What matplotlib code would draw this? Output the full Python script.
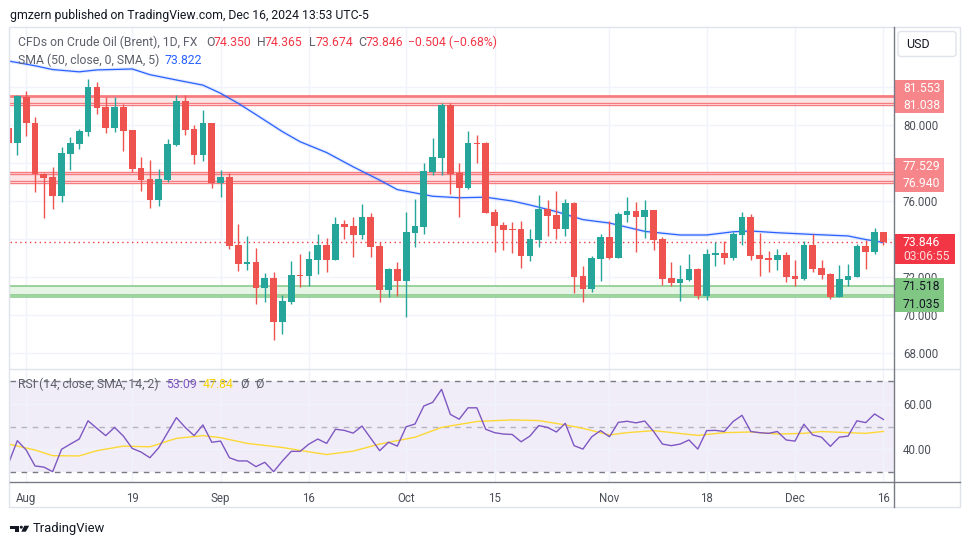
import numpy as np
import matplotlib
matplotlib.use("Agg")
import matplotlib.pyplot as plt
from matplotlib.patches import Rectangle, FancyBboxPatch, Polygon, Circle
from matplotlib.ticker import FormatStrFormatter

# ---- daily candles, Jul 30 .. Dec 16 2024 (Brent CFD) ----
opens = [79.83, 79.07, 81.50, 80.10, 77.40, 77.26, 76.28, 78.50, 79.02, 79.65,
         82.00, 80.95, 79.86, 80.95, 79.74, 77.74, 77.16, 76.07, 77.12, 78.95,
         81.26, 79.79, 78.42, 80.10, 76.95, 77.26, 73.68, 72.70, 72.79, 71.44,
         71.93, 69.65, 70.70, 72.12, 72.07, 72.91, 73.68, 72.91, 74.79, 74.68,
         74.21, 75.16, 73.63, 71.32, 72.42, 71.79, 74.32, 74.65, 77.53, 78.26,
         81.05, 77.47, 76.68, 79.05, 79.05, 75.42, 74.74, 74.52, 74.50, 73.12,
         73.96, 75.58, 75.26, 74.54, 75.90, 72.05, 71.39, 72.96, 74.10, 73.00,
         75.28, 75.47, 75.18, 75.53, 74.00, 71.95, 71.70, 71.86, 72.42, 71.02,
         73.16, 73.26, 73.00, 74.21, 75.16, 73.16, 73.00, 72.90, 73.16, 72.05,
         71.89, 73.68, 72.47, 72.16, 70.96, 71.86, 72.02, 73.63, 73.32, 74.350]
highs = [80.00, 81.60, 81.80, 80.40, 77.45, 77.80, 78.84, 79.37, 79.79, 82.42,
         82.25, 81.45, 81.45, 81.12, 79.76, 78.32, 78.16, 77.68, 79.26, 81.58,
         81.58, 80.00, 80.79, 80.12, 77.63, 77.47, 74.79, 74.17, 73.53, 72.21,
         72.26, 71.05, 72.84, 73.21, 73.37, 74.28, 74.05, 75.18, 75.00, 75.18,
         75.84, 75.37, 73.82, 72.45, 72.79, 75.42, 76.10, 78.00, 79.32, 81.16,
         81.16, 78.00, 79.68, 79.47, 79.10, 75.58, 74.90, 74.90, 74.95, 74.50,
         76.32, 76.05, 76.53, 76.10, 75.95, 72.58, 73.10, 74.26, 74.95, 75.40,
         76.21, 75.95, 76.05, 75.55, 74.10, 72.79, 72.63, 73.21, 72.47, 73.47,
         73.84, 73.90, 74.37, 75.42, 75.32, 74.32, 73.37, 73.47, 73.32, 72.90,
         73.90, 74.26, 72.90, 72.20, 72.63, 72.68, 73.74, 73.95, 74.58, 74.365]
lows = [78.90, 78.40, 79.40, 76.45, 75.10, 75.60, 75.96, 77.65, 78.74, 79.44,
        80.56, 79.58, 79.65, 78.63, 77.54, 76.54, 75.65, 75.75, 77.00, 78.90,
        79.47, 77.93, 78.10, 76.70, 76.23, 73.47, 72.32, 72.39, 70.60, 70.67,
        68.67, 69.02, 70.60, 71.49, 71.53, 72.17, 72.28, 72.90, 74.02, 73.07,
        74.00, 73.07, 70.68, 70.93, 71.02, 69.91, 73.60, 74.28, 77.37, 77.37,
        76.37, 75.16, 76.65, 78.00, 75.35, 73.32, 73.42, 73.26, 72.49, 72.84,
        73.60, 74.16, 74.00, 74.16, 71.18, 70.70, 71.20, 71.81, 72.96, 72.98,
        74.90, 73.33, 74.07, 73.44, 71.60, 71.54, 70.75, 71.80, 70.86, 70.80,
        72.58, 72.68, 72.90, 73.68, 72.90, 72.05, 72.26, 72.37, 71.75, 71.54,
        71.85, 72.26, 71.91, 70.86, 70.95, 71.54, 72.00, 72.42, 73.21, 73.674]
closes = [79.07, 81.53, 80.10, 77.40, 77.23, 76.28, 78.53, 79.05, 79.68, 82.00,
          80.91, 79.86, 80.95, 79.68, 77.68, 77.12, 76.07, 77.16, 79.00, 81.26,
          79.74, 78.42, 80.10, 76.95, 77.26, 73.65, 72.70, 72.79, 71.44, 71.93,
          69.65, 70.74, 72.09, 72.06, 72.95, 73.68, 72.91, 74.79, 74.63, 74.21,
          75.16, 73.60, 71.32, 72.42, 71.79, 74.37, 74.68, 77.58, 78.32, 81.05,
          77.42, 76.68, 79.05, 79.00, 75.37, 74.68, 74.47, 74.47, 73.12, 74.00,
          75.58, 75.23, 74.54, 75.90, 72.02, 71.39, 73.00, 74.10, 73.00, 75.32,
          75.47, 75.18, 75.53, 73.96, 71.91, 71.70, 71.89, 72.42, 71.02, 73.21,
          73.26, 73.00, 74.26, 75.16, 73.10, 72.95, 72.90, 73.16, 72.00, 71.89,
          73.68, 72.44, 72.12, 70.96, 71.89, 72.05, 73.63, 73.32, 74.37, 73.846]

# SMA(50) read at a handful of candles (candle index, value)
sma_idx = [0, 3, 5, 8, 10, 14, 16, 19, 22, 24, 26, 28, 31, 33, 36, 39, 42, 44,
           48, 51, 54, 57, 59, 62, 65, 68, 72, 76, 79, 82, 84, 87, 91, 95, 97, 99]
sma_val = [83.37, 83.12, 82.92, 82.80, 82.90, 82.95, 82.65, 82.37, 82.10, 81.67,
           81.14, 80.55, 79.65, 79.12, 78.55, 77.80, 77.10, 76.60, 76.25, 76.17,
           76.20, 76.00, 75.79, 75.44, 75.02, 74.84, 74.40, 74.21, 74.21, 74.38,
           74.42, 74.33, 74.24, 74.16, 73.97, 73.822]

# RSI(14) per candle
rsi = [33.8, 43.8, 39.7, 32.7, 32.2, 30.2, 40.0, 42.3, 44.5, 52.5,
       49.2, 46.0, 49.6, 45.8, 40.4, 38.8, 36.3, 40.7, 47.3, 53.9,
       49.6, 46.0, 50.7, 43.1, 43.6, 36.3, 34.9, 34.9, 32.4, 34.3,
       30.2, 34.9, 39.1, 39.1, 42.3, 44.5, 42.6, 48.8, 48.3, 47.1,
       50.2, 44.8, 39.4, 43.1, 41.4, 49.9, 51.1, 59.0, 60.6, 66.3,
       55.3, 53.2, 58.2, 58.2, 48.8, 47.3, 46.7, 46.5, 43.3, 45.8,
       50.4, 49.6, 47.6, 51.4, 41.6, 40.1, 45.5, 48.2, 45.5, 51.8,
       52.3, 51.6, 52.4, 47.8, 42.3, 41.6, 42.3, 44.1, 40.1, 48.2,
       48.3, 47.8, 52.2, 54.9, 47.8, 47.3, 47.0, 47.8, 44.1, 43.6,
       51.0, 46.3, 45.3, 41.3, 45.3, 45.8, 52.5, 51.7, 55.5, 53.09]

# RSI-based SMA(14) read at some candles
rsi_ma_idx = [0, 3, 5, 8, 10, 13, 16, 19, 22, 24, 27, 31, 34, 36, 39, 42, 46, 49,
              53, 57, 60, 63, 65, 68, 70, 73, 78, 81, 84, 87, 90, 92, 95, 97, 99]
rsi_ma_val = [42.3, 39.7, 37.2, 37.1, 39.4, 41.4, 41.1, 44.8, 46.0, 45.1,
              42.6, 40.8, 38.9, 37.7, 39.2, 42.3, 45.3, 49.6, 52.2, 52.9,
              52.6, 50.7, 49.2, 46.3, 47.3, 48.2, 46.1, 47.3, 47.6, 46.7,
              47.0, 47.8, 47.3, 47.0, 47.84]

tick_idx = [2, 14, 24, 34, 45, 55, 68, 79, 89, 99]
tick_lbl = ["Aug", "19", "Sep", "16", "Oct", "15", "Nov", "18", "Dec", "16"]

price_ticks = [68, 70, 72, 76, 80]      # labelled on the price scale
price_grid_only = [74, 78, 82]          # grid lines whose labels are hidden by tags
rsi_ticks = [40, 60]

# drawn zones (price levels of the lines and fills)
red_zone1_lines = [81.553, 81.14, 81.038]
red_zone1_fill = (81.14, 81.553)
red_zone2_lines = [77.529, 77.41, 77.04, 76.940]
red_zone2_fill = (77.04, 77.529)
green_zone_lines = [71.518, 71.035, 70.93]
green_zone_fill = (71.035, 71.518)
last_price = 73.846
countdown = "03:06:55"

UP = "#26a69a"
DOWN = "#ef5350"
GRID = "#f0f3fa"
TXT = "#4b4f59"
HDR = "#5d606b"

plt.rcParams['font.family'] = ['Roboto', 'DejaVu Sans']
FS = 8.3
FS_HDR = 8.8

W, H = 970, 545
fig = plt.figure(figsize=(W / 100, H / 100), dpi=100)
fig.patch.set_facecolor("white")


def px_rect(x0, y0, x1, y1):
    return [x0 / W, 1 - y1 / H, (x1 - x0) / W, (y1 - y0) / H]


ax = fig.add_axes(px_rect(10, 27, 894, 369.3))
ax_rsi = fig.add_axes(px_rect(10, 369.3, 894, 482.3), sharex=ax)

o = np.array(opens); h = np.array(highs); l = np.array(lows); c = np.array(closes)
x = np.arange(len(o))
cols = np.where(c >= o, UP, DOWN)

# ---- main pane ----
ax.set_xlim(0.17, 100.2)
ax.set_ylim(67.14, 85.16)
for s in ax.spines.values():
    s.set_visible(False)
ax.set_xticks(tick_idx)
ax.set_yticks(price_ticks)
ax.set_yticks(price_grid_only, minor=True)
ax.yaxis.tick_right()
ax.yaxis.set_major_formatter(FormatStrFormatter("%.3f"))
ax.tick_params(axis="y", which="both", length=0, pad=6.5, labelsize=FS, labelcolor=TXT)
ax.tick_params(axis="x", length=0, labelbottom=False)
ax.grid(True, which="both", color=GRID, lw=1, zorder=0)
ax.set_axisbelow(True)

ax.axhspan(*red_zone1_fill, color="#fde4e5", lw=0, zorder=1)
ax.axhspan(*red_zone2_fill, color="#fde4e5", lw=0, zorder=1)
ax.axhspan(*green_zone_fill, color="#e6f4e6", lw=0, zorder=1)
for i, v in enumerate(red_zone1_lines):
    ax.axhline(v, color="#f77c80", lw=2.0 if i == 0 else 1.0, zorder=1.5)
for v in red_zone2_lines:
    ax.axhline(v, color="#f77c80", lw=1.0, zorder=1.5)
for v in green_zone_lines:
    ax.axhline(v, color="#81c784", lw=1.1, zorder=1.5)

ax.axhline(last_price, color="#f23645", lw=1, ls=(0, (1, 2.5)), zorder=2)

ax.plot(sma_idx, sma_val, color="#2962ff", lw=2.6, alpha=0.12, zorder=2.2,
        solid_capstyle="round")
ax.plot(sma_idx, sma_val, color="#2962ff", lw=0.9, zorder=2.3)

ax.vlines(x, l, h, colors=cols, lw=1, zorder=3)
ax.bar(x, np.maximum(np.abs(c - o), 0.04), bottom=np.minimum(o, c), width=0.76,
       color=cols, lw=0, zorder=4)

# ---- RSI pane ----
ax_rsi.set_ylim(25.53, 75.09)
for s in ax_rsi.spines.values():
    s.set_visible(False)
ax_rsi.set_yticks(rsi_ticks)
ax_rsi.yaxis.tick_right()
ax_rsi.yaxis.set_major_formatter(FormatStrFormatter("%.2f"))
ax_rsi.tick_params(axis="y", length=0, pad=6.5, labelsize=FS, labelcolor=TXT)
ax_rsi.set_xticks(tick_idx)
ax_rsi.set_xticklabels(tick_lbl)
ax_rsi.tick_params(axis="x", length=0, pad=7, labelsize=FS, labelcolor=TXT)
ax_rsi.grid(True, color=GRID, lw=1, zorder=0)
ax_rsi.set_axisbelow(True)
ax_rsi.axhspan(30, 70, color="#7e57c2", alpha=0.1, lw=0, zorder=0.5)
ax_rsi.axhline(70, color="#787b86", lw=1, ls=(0, (4, 4)), zorder=1)
ax_rsi.axhline(30, color="#787b86", lw=1, ls=(0, (4, 4)), zorder=1)
ax_rsi.axhline(50, color="#787b86", lw=1, ls=(0, (4, 4)), alpha=0.5, zorder=1)
ax_rsi.plot(rsi_ma_idx, rsi_ma_val, color="#fdd835", lw=1, zorder=2)
ax_rsi.plot(x, rsi, color="#7e57c2", lw=1, zorder=3)

# ---- overlay in pixel units: frame, price labels, header texts ----
ov = fig.add_axes([0, 0, 1, 1])
ov.set_xlim(0, W)
ov.set_ylim(H, 0)
ov.axis("off")
ov.set_zorder(10)

ov.add_patch(Rectangle((9.5, 27), 950.5, 480, fill=False, ec="#e0e3eb", lw=1))
ov.plot([10, 960], [369.3, 369.3], color="#e0e3eb", lw=1)
ov.plot([10, 960], [482.3, 482.3], color="#787b86", lw=1)
ov.plot([894.3, 894.3], [27, 507], color="#787b86", lw=1)

# USD box
ov.add_patch(FancyBboxPatch((898, 31.5), 58, 25, boxstyle="round,pad=0,rounding_size=3",
                            fc="white", ec="#e0e3eb", lw=1))
ov.text(906.5, 44, "USD", fontsize=FS + 0.7, color="#131722", va="center")


def price_box(y0, y1, w, fc, lines, tcolors):
    ov.add_patch(Rectangle((895, y0), w, y1 - y0, fc=fc, ec="none"))
    for (ty, t), tc in zip(lines, tcolors):
        ov.text(903, ty, t, fontsize=FS + 0.4, color=tc, va="center")


price_box(80, 113.3, 49.5, "#f7868a",
          [(89, f"{red_zone1_lines[0]:.3f}"), (105.5, f"{red_zone1_lines[2]:.3f}")],
          ["white", "white"])
price_box(158.3, 191.7, 49.5, "#f7868a",
          [(166.7, f"{red_zone2_lines[0]:.3f}"), (183.3, f"{red_zone2_lines[3]:.3f}")],
          ["white", "white"])
price_box(234.3, 264.3, 60, "#f23645",
          [(242.5, f"{last_price:.3f}"), (256.5, countdown)],
          ["white", "#fcd9dc"])
price_box(278.3, 311.7, 49.5, "#81c784",
          [(286.7, f"{green_zone_lines[0]:.3f}"), (304, f"{green_zone_lines[1]:.3f}")],
          ["#131722", "#131722"])

# title line
ov.text(10, 15, "gmzern published on TradingView.com, Dec 16, 2024 13:53 UTC-5",
        fontsize=8.8, color="#131722", va="center")

# legend of the main pane
ov.text(18, 42, "CFDs on Crude Oil (Brent), 1D, FX", fontsize=FS_HDR, color=HDR, va="center")
ohlc_parts = [(206.5, "O", HDR), (213.3, f"{opens[-1]:.3f}", DOWN),
              (257.5, "H", HDR), (264.5, f"{highs[-1]:.3f}", DOWN),
              (309, "L", HDR), (315.5, f"{lows[-1]:.3f}", DOWN),
              (358, "C", HDR), (365.5, f"{closes[-1]:.3f}", DOWN),
              (408, f"\u2212{opens[-1] - closes[-1]:.3f} (\u22120.68%)", DOWN)]
for px, t, col in ohlc_parts:
    ov.text(px, 42, t, fontsize=FS_HDR, color=col if col != DOWN else "#f23645",
            va="center")
ov.text(18, 60, "SMA (50, close, 0, SMA, 5)", fontsize=FS_HDR, color=HDR, va="center")
ov.text(165, 60, f"{sma_val[-1]:.3f}", fontsize=FS_HDR, color="#2962ff", va="center")

# legend of the RSI pane
ov.text(18, 384, "RSI (14, close, SMA, 14, 2)", fontsize=FS_HDR, color=HDR, va="center")
ov.text(166, 384, f"{rsi[-1]:.2f}", fontsize=FS_HDR, color="#7e57c2", va="center")
ov.text(203, 384, f"{rsi_ma_val[-1]:.2f}", fontsize=FS_HDR, color="#f5d400", va="center")
ov.text(240.5, 384, "\u00d8", fontsize=FS_HDR, color=HDR, va="center")
ov.text(255.5, 384, "\u00d8", fontsize=FS_HDR, color=HDR, va="center")

# TradingView logo + name
ov.add_patch(Rectangle((10, 525.7), 9, 2.8, fc="#131722", ec="none"))
ov.add_patch(Rectangle((15, 525.7), 4, 6, fc="#131722", ec="none"))
ov.add_patch(Circle((21.3, 527.2), 1.5, fc="#131722", ec="none"))
ov.add_patch(Polygon([(24.3, 525.7), (29.2, 525.7), (25.8, 531.7), (21.3, 531.7)],
                     closed=True, fc="#131722", ec="none"))
ov.text(32.5, 528.5, "TradingView", fontsize=9.4, color="#131722", va="center")

fig.savefig("out.png", dpi=100)
